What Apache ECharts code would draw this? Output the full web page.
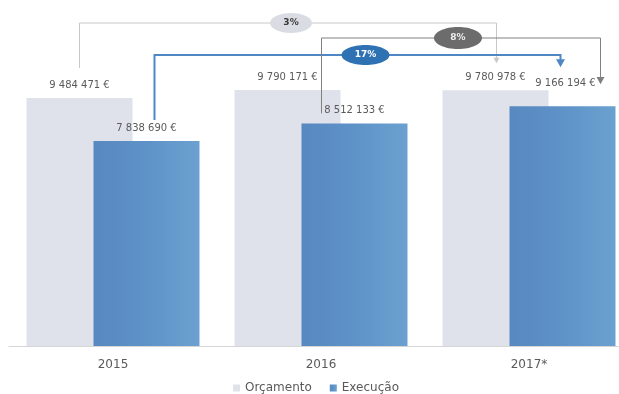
<!DOCTYPE html>
<html>
<head>
<meta charset="utf-8">
<script src="https://cdn.jsdelivr.net/npm/echarts@6/dist/echarts.min.js"></script>
<style>
  html, body { margin: 0; padding: 0; background: #ffffff; overflow: hidden; }
  /* the plot runs past the right edge of the window */
  #chart { width: 634px; height: 394px; }
</style>
</head>
<body>
<div id="chart"></div>
<script>
// Budget vs. execution per year
const categories = ['2015', '2016', '2017*'];
const orcamento = [9484471, 9790171, 9780978];
const execucao = [7838690, 8512133, 9166194];

// Growth connectors: [fromYearIndex, fromSeries, toYearIndex, toSeries]
const connectors = [
  [0, 'orc', 2, 'orc'],
  [0, 'exe', 2, 'exe'],
  [1, 'exe', 2, 'exe']
];

const seriesValues = { orc: orcamento, exe: execucao };

// Layout / look
const BAR_W = 106;
const BAR_GAP = -0.368;
const FONT = '"DejaVu Sans", sans-serif';
const BAR_SHIFT = (BAR_W + BAR_W * BAR_GAP) / 2;

const connectorLook = [
  { level: 23, gap1: 30, gap2: 27, dx1: 0, dx2: 1, ovalDx: 3, rx: 21, ry: 10,
    line: '#c8c8c8', lw: 1, arrow: 3, fill: '#d9dce3', text: '#3a3a3a' },
  { level: 55, gap1: 21, gap2: 39, dx1: 8, dx2: -2, ovalDx: 8, rx: 24, ry: 10,
    line: '#4f87c4', lw: 2, arrow: 4.5, fill: '#2f72b4', text: '#ffffff' },
  { level: 38, gap1: 10, gap2: 22, dx1: -33, dx2: 38, ovalDx: -3, rx: 24, ry: 11,
    line: '#808080', lw: 1, arrow: 4, fill: '#6c6c6c', text: '#eeeeee' }
];

function pct(a, b) {
  return Math.round((b - a) / a * 100) + '%';
}

const connectorData = connectors.map(c => [
  c[0], seriesValues[c[1]][c[0]], c[2], seriesValues[c[3]][c[2]],
  c[1] === 'orc' ? -1 : 1, c[3] === 'orc' ? -1 : 1
]);

function renderConnector(params, api) {
  const look = connectorLook[params.dataIndex];
  const p1 = api.coord([api.value(0), api.value(1)]);
  const p2 = api.coord([api.value(2), api.value(3)]);
  const x1 = p1[0] + api.value(4) * BAR_SHIFT + look.dx1;
  const x2 = p2[0] + api.value(5) * BAR_SHIFT + look.dx2;
  const yStart = p1[1] - look.gap1;
  const yTip = p2[1] - look.gap2;
  const a = look.arrow;
  const raw = connectors[params.dataIndex];
  const label = pct(seriesValues[raw[1]][raw[0]], seriesValues[raw[3]][raw[2]]);
  const cx = (x1 + x2) / 2 + look.ovalDx;
  return {
    type: 'group',
    children: [
      {
        type: 'polyline',
        shape: { points: [[x1, yStart], [x1, look.level], [x2, look.level], [x2, yTip - a * 1.6]] },
        style: { stroke: look.line, lineWidth: look.lw, fill: null }
      },
      {
        type: 'polygon',
        shape: { points: [[x2 - a, yTip - a * 1.8], [x2 + a, yTip - a * 1.8], [x2, yTip]] },
        style: { fill: look.line }
      },
      {
        type: 'ellipse',
        shape: { cx: cx, cy: look.level, rx: look.rx, ry: look.ry },
        style: { fill: look.fill }
      },
      {
        type: 'text',
        x: cx, y: look.level,
        style: {
          text: label, fill: look.text, font: 'bold 9px ' + FONT,
          align: 'center', verticalAlign: 'middle'
        }
      }
    ]
  };
}

function euro(v) {
  return String(v).replace(/\B(?=(\d{3})+(?!\d))/g, ' ') + ' €';
}

const labelStyle = {
  show: true,
  position: 'top',
  distance: 8,
  color: '#5a5a5a',
  fontFamily: FONT,
  fontSize: 10,
  formatter: p => euro(p.value)
};

const chart = echarts.init(document.getElementById('chart'), null, { renderer: 'canvas' });

chart.setOption({
  backgroundColor: '#ffffff',
  animation: false,
  grid: { left: 9, right: 1, top: 0, bottom: 48 },
  legend: {
    data: ['Orçamento', 'Execução'],
    top: 377,
    left: 228,
    icon: 'rect',
    itemWidth: 7,
    itemHeight: 7,
    itemGap: 18,
    textStyle: { color: '#5a5a5a', fontFamily: FONT, fontSize: 12 }
  },
  xAxis: {
    type: 'category',
    data: categories,
    axisLine: { lineStyle: { color: '#d6d6d6', width: 1 } },
    axisTick: { show: false },
    axisLabel: { color: '#5a5a5a', fontFamily: FONT, fontSize: 12, margin: 13 }
  },
  yAxis: {
    type: 'value',
    min: 0,
    max: 13230000,
    show: false,
    splitLine: { show: false }
  },
  series: [
    {
      name: 'Orçamento',
      type: 'bar',
      data: orcamento,
      barWidth: BAR_W,
      barGap: (BAR_GAP * 100) + '%',
      itemStyle: { color: '#dfe2eb' },
      label: labelStyle
    },
    {
      name: 'Execução',
      type: 'bar',
      data: execucao.map((v, i) => i === 2
        ? { value: v, label: { offset: [3, -10] } }
        : v),
      barWidth: BAR_W,
      itemStyle: {
        color: new echarts.graphic.LinearGradient(0, 0, 1, 0, [
          { offset: 0, color: '#5888c0' },
          { offset: 0.45, color: '#5d91c7' },
          { offset: 1, color: '#6ba1d0' }
        ])
      },
      label: labelStyle
    },
    {
      name: 'connectors',
      type: 'custom',
      data: connectorData,
      encode: { x: 0, y: 1 },
      renderItem: renderConnector,
      silent: true,
      z: 5
    }
  ]
});
</script>
</body>
</html>
